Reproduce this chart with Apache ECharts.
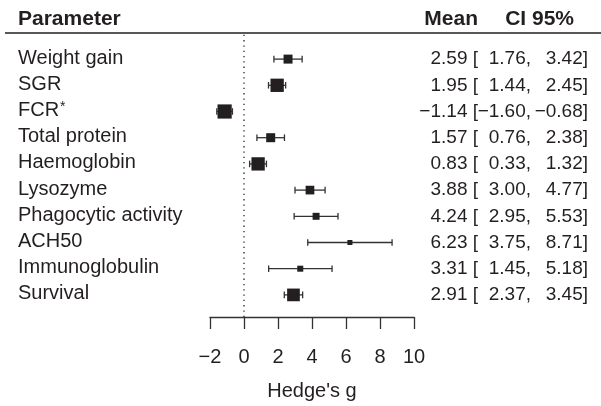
<!DOCTYPE html>
<html>
<head>
<meta charset="utf-8">
<script src="https://cdn.jsdelivr.net/npm/echarts@6/dist/echarts.min.js"></script>
<style>
html,body{margin:0;padding:0;background:#fff;}
#chart{width:601px;height:406px;}
</style>
</head>
<body>
<div id="chart"></div>
<script>
// ---- data ----
const params = ['Weight gain', 'SGR', 'FCR*', 'Total protein', 'Haemoglobin', 'Lysozyme', 'Phagocytic activity', 'ACH50', 'Immunoglobulin', 'Survival'];
const means = [2.59, 1.95, -1.14, 1.57, 0.83, 3.88, 4.24, 6.23, 3.31, 2.91];
const lows = [1.76, 1.44, -1.60, 0.76, 0.33, 3.00, 2.95, 3.75, 1.45, 2.37];
const highs = [3.42, 2.45, -0.68, 2.38, 1.32, 4.77, 5.53, 8.71, 5.18, 3.45];
const weights = [9.0, 19.7, 22.4, 9.0, 19.7, 8.4, 5.4, 2.8, 4.0, 17.9];
const xTickMin = -2, xTickMax = 10, xTickStep = 2;
const headers = ['Parameter', 'Mean', 'CI 95%'];
const axisTitle = "Hedge's g";

const FONT = "'Liberation Sans', Arial, Helvetica, sans-serif";
const INK = '#231f20';
const fmt = v => v.toFixed(2).replace('-', '\u2212');

const chart = echarts.init(document.getElementById('chart'), null, {renderer: 'canvas'});

const rowData = params.map((p, i) => [i, means[i], lows[i], highs[i], weights[i]]);

const tok = (extra) => Object.assign({fontSize: 19, fontFamily: FONT, color: INK}, extra);

const option = {
  animation: false,
  backgroundColor: '#fff',
  grid: [
    {left: 210, right: 187, top: 46, height: 262},
    {left: 210, right: 187, top: 34, bottom: 85}
  ],
  xAxis: [
    {gridIndex: 0, type: 'value', min: xTickMin, max: xTickMax, show: false},
    {
      gridIndex: 1, type: 'value', min: xTickMin, max: xTickMax, interval: xTickStep,
      axisLine: {show: true, lineStyle: {color: '#333', width: 1.3}},
      axisTick: {show: true, length: 12, lineStyle: {color: '#333', width: 1.3}},
      splitLine: {show: false},
      axisLabel: {
        show: true, margin: 30, fontSize: 20, fontFamily: FONT, color: INK,
        formatter: v => String(v).replace('-', '\u2212')
      },
      name: axisTitle, nameLocation: 'middle', nameGap: 64,
      nameTextStyle: {fontSize: 20, fontFamily: FONT, color: INK}
    }
  ],
  yAxis: [
    {
      gridIndex: 0, type: 'category', inverse: true, data: params,
      axisLine: {show: false}, axisTick: {show: false}, splitLine: {show: false},
      axisLabel: {
        interval: 0, align: 'left', margin: 192, fontSize: 20, fontFamily: FONT, color: INK,
        padding: [0, 0, 2, 0],
        formatter: v => v.replace('*', '{sup|*}'),
        rich: {sup: {fontSize: 14, fontFamily: FONT, color: INK, verticalAlign: 'top', padding: [0, 0, 0, 1]}}
      }
    },
    {
      gridIndex: 0, type: 'category', inverse: true, position: 'right', data: params,
      axisLine: {show: false}, axisTick: {show: false}, splitLine: {show: false},
      axisLabel: {
        interval: 0, align: 'right', margin: 174, fontSize: 19, fontFamily: FONT, color: INK,
        formatter: (v, i) => `{m|${fmt(means[i])}}{b| [}{c|${fmt(lows[i])},}{d|${fmt(highs[i])}]}`,
        rich: {
          m: tok({align: 'right'}),
          b: tok({align: 'right'}),
          c: tok({align: 'right', width: 53}),
          d: tok({align: 'right', width: 57})
        }
      }
    },
    {gridIndex: 1, type: 'value', min: 0, max: 1, show: false}
  ],
  graphic: [
    {type: 'line', shape: {x1: 5, y1: 33, x2: 601, y2: 33}, style: {stroke: INK, lineWidth: 1.5}},
    {type: 'text', x: 18, y: 19, style: {text: headers[0], font: 'bold 21px ' + FONT, fill: INK, align: 'left', verticalAlign: 'middle', textAlign: 'left', textVerticalAlign: 'middle'}},
    {type: 'text', x: 478, y: 19, style: {text: headers[1], font: 'bold 21px ' + FONT, fill: INK, align: 'right', verticalAlign: 'middle', textAlign: 'right', textVerticalAlign: 'middle'}},
    {type: 'text', x: 574, y: 19, style: {text: headers[2], font: 'bold 21px ' + FONT, fill: INK, align: 'right', verticalAlign: 'middle', textAlign: 'right', textVerticalAlign: 'middle'}}
  ],
  series: [
    {
      type: 'line', xAxisIndex: 1, yAxisIndex: 2, data: [[0, 0], [0, 1]],
      symbol: 'none', silent: true, z: 1,
      lineStyle: {color: '#222', width: 1.3, type: [1.3, 4]}
    },
    {
      type: 'custom', xAxisIndex: 0, yAxisIndex: 0, data: rowData, z: 5,
      encode: {y: 0, x: 1},
      renderItem: (p, api) => {
        const yc = api.value(0);
        const pL = api.coord([api.value(2), yc]);
        const pH = api.coord([api.value(3), yc]);
        const pM = api.coord([api.value(1), yc]);
        const s = 3 * Math.sqrt(api.value(4));
        const cap = 3.3;
        const st = {stroke: '#333', lineWidth: 1.3};
        return {
          type: 'group',
          children: [
            {type: 'line', shape: {x1: pL[0], y1: pL[1], x2: pH[0], y2: pH[1]}, style: st},
            {type: 'line', shape: {x1: pL[0], y1: pL[1] - cap, x2: pL[0], y2: pL[1] + cap}, style: st},
            {type: 'line', shape: {x1: pH[0], y1: pH[1] - cap, x2: pH[0], y2: pH[1] + cap}, style: st},
            {type: 'rect', shape: {x: pM[0] - s / 2, y: pM[1] - s / 2, width: s, height: s}, style: {fill: INK}}
          ]
        };
      }
    }
  ]
};
chart.setOption(option);
</script>
</body>
</html>
